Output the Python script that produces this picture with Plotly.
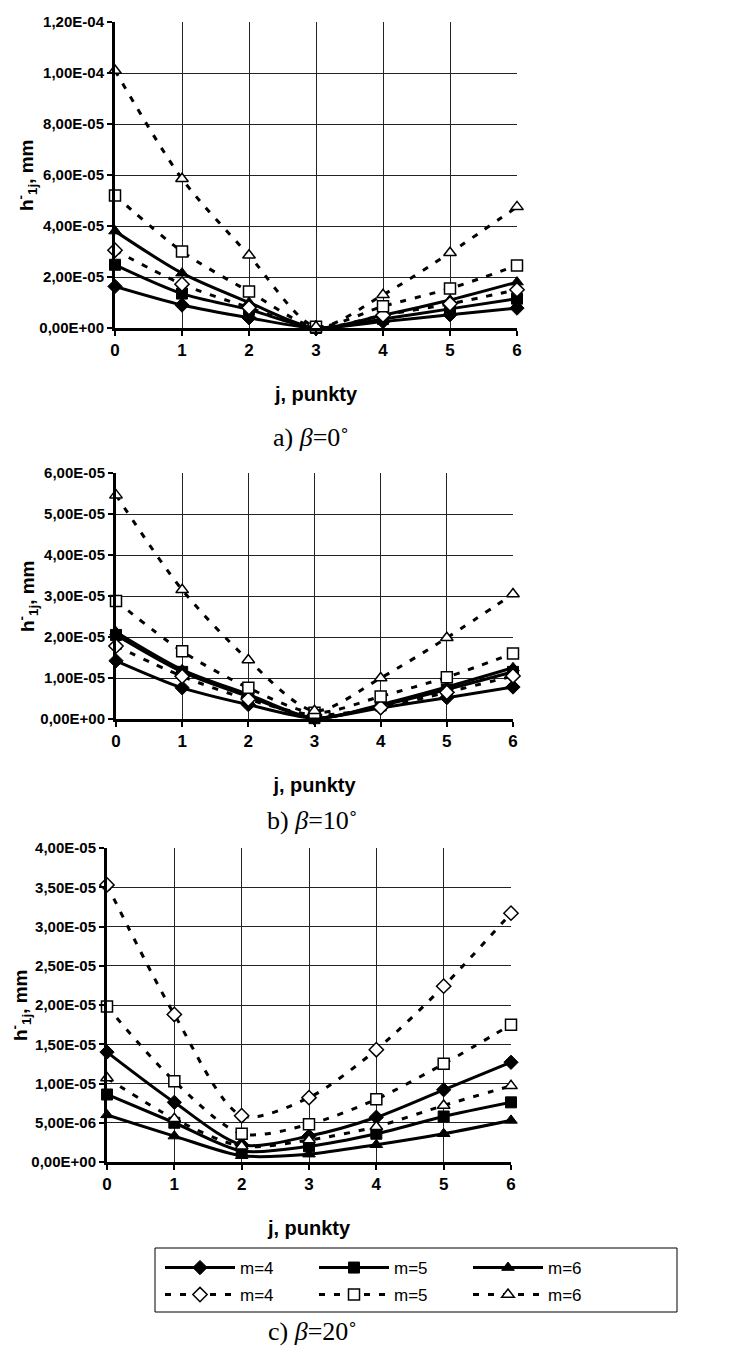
import plotly.graph_objects as go

# ---------------- data ----------------
j_points = [0, 1, 2, 3, 4, 5, 6]
x_tick_labels = ["0", "1", "2", "3", "4", "5", "6"]
series_names = ["m=4", "m=5", "m=6"]

# a) beta = 0 deg
a_solid_m4 = [1.63e-5, 0.90e-5, 0.40e-5, 0.0, 0.25e-5, 0.52e-5, 0.78e-5]
a_solid_m5 = [2.48e-5, 1.35e-5, 0.72e-5, 0.0, 0.35e-5, 0.75e-5, 1.15e-5]
a_solid_m6 = [3.80e-5, 2.15e-5, 1.00e-5, 0.0, 0.50e-5, 1.10e-5, 1.80e-5]
a_dash_m4 = [3.05e-5, 1.72e-5, 0.80e-5, 0.0, 0.50e-5, 0.95e-5, 1.50e-5]
a_dash_m5 = [5.20e-5, 3.00e-5, 1.43e-5, 0.05e-5, 0.85e-5, 1.55e-5, 2.45e-5]
a_dash_m6 = [10.1e-5, 5.85e-5, 2.85e-5, 0.05e-5, 1.30e-5, 2.95e-5, 4.75e-5]
a_yticks = [0, 2e-5, 4e-5, 6e-5, 8e-5, 1e-4, 1.2e-4]
a_ytext = ["0,00E+00", "2,00E-05", "4,00E-05", "6,00E-05", "8,00E-05", "1,00E-04", "1,20E-04"]

# b) beta = 10 deg
b_solid_m4 = [1.42e-5, 0.76e-5, 0.35e-5, 0.02e-5, 0.27e-5, 0.52e-5, 0.78e-5]
b_solid_m5 = [2.05e-5, 1.15e-5, 0.55e-5, 0.02e-5, 0.33e-5, 0.72e-5, 1.15e-5]
b_solid_m6 = [2.12e-5, 1.20e-5, 0.60e-5, 0.02e-5, 0.35e-5, 0.78e-5, 1.25e-5]
b_dash_m4 = [1.78e-5, 1.04e-5, 0.48e-5, 0.10e-5, 0.28e-5, 0.65e-5, 1.05e-5]
b_dash_m5 = [2.88e-5, 1.65e-5, 0.76e-5, 0.15e-5, 0.55e-5, 1.02e-5, 1.60e-5]
b_dash_m6 = [5.46e-5, 3.15e-5, 1.44e-5, 0.20e-5, 1.00e-5, 1.98e-5, 3.05e-5]
b_yticks = [0, 1e-5, 2e-5, 3e-5, 4e-5, 5e-5, 6e-5]
b_ytext = ["0,00E+00", "1,00E-05", "2,00E-05", "3,00E-05", "4,00E-05", "5,00E-05", "6,00E-05"]

# c) beta = 20 deg
c_solid_m4 = [1.40e-5, 0.76e-5, 0.22e-5, 0.33e-5, 0.57e-5, 0.92e-5, 1.27e-5]
c_solid_m5 = [0.86e-5, 0.50e-5, 0.14e-5, 0.20e-5, 0.36e-5, 0.58e-5, 0.76e-5]
c_solid_m6 = [0.60e-5, 0.33e-5, 0.08e-5, 0.10e-5, 0.22e-5, 0.36e-5, 0.53e-5]
c_dash_m4 = [3.53e-5, 1.88e-5, 0.59e-5, 0.82e-5, 1.43e-5, 2.24e-5, 3.17e-5]
c_dash_m5 = [1.98e-5, 1.03e-5, 0.36e-5, 0.48e-5, 0.80e-5, 1.25e-5, 1.75e-5]
c_dash_m6 = [1.07e-5, 0.55e-5, 0.20e-5, 0.28e-5, 0.45e-5, 0.72e-5, 0.97e-5]
c_yticks = [0, 5e-6, 1e-5, 1.5e-5, 2e-5, 2.5e-5, 3e-5, 3.5e-5, 4e-5]
c_ytext = ["0,00E+00", "5,00E-06", "1,00E-05", "1,50E-05", "2,00E-05",
           "2,50E-05", "3,00E-05", "3,50E-05", "4,00E-05"]

captions = ["a) <i>β</i>=0˚", "b) <i>β</i>=10˚", "c) <i>β</i>=20˚"]
y_title = "<b>h<sup>-</sup><sub>1j</sub>, mm</b>"

# ---------------- figure ----------------
OFF = 8                      # page body margin
W, H = 733 - OFF, 1353 - OFF


def px(x):
    return (x - OFF) / W


def py(y):
    return 1 - (y - OFF) / H


SANS = "Liberation Sans, Arial"
TICK_FONT = dict(family=SANS, size=15, color="black", weight="bold")
TITLE_FONT = dict(family=SANS, size=20, color="black", weight="bold")

symbols = ["diamond", "square", "triangle-up"]

charts = [
    ([a_solid_m4, a_solid_m5, a_solid_m6], [a_dash_m4, a_dash_m5, a_dash_m6], a_yticks, a_ytext),
    ([b_solid_m4, b_solid_m5, b_solid_m6], [b_dash_m4, b_dash_m5, b_dash_m6], b_yticks, b_ytext),
    ([c_solid_m4, c_solid_m5, c_solid_m6], [c_dash_m4, c_dash_m5, c_dash_m6], c_yticks, c_ytext),
]

# screen-pixel layout of the three plot areas (left, right, top, bottom)
boxes = [(115, 517, 22, 328), (116, 513, 473, 719), (107, 511, 848, 1162)]
caption_pos = [(311, 437), (312, 820), (312, 1331)]
ytitle_x = [26, 27, 20]

fig = go.Figure()
layout = dict()
annotations = []

for ci, (solids, dashes, yt, ytx) in enumerate(charts):
    sfx = "" if ci == 0 else str(ci + 1)
    xa, ya = "x" + sfx, "y" + sfx
    last = ci == 2
    for k in range(3):
        fig.add_trace(go.Scatter(
            x=j_points, y=solids[k], xaxis=xa, yaxis=ya, mode="lines+markers",
            name=series_names[k], showlegend=last, legend="legend",
            line=dict(color="black", width=3, shape="spline", smoothing=0.8),
            marker=dict(symbol=symbols[k], size=11, color="black",
                        line=dict(color="black", width=1)),
            cliponaxis=False))
    for k in range(3):
        fig.add_trace(go.Scatter(
            x=j_points, y=dashes[k], xaxis=xa, yaxis=ya, mode="lines+markers",
            name=series_names[k], showlegend=last, legend="legend2",
            line=dict(color="black", width=3, dash="6px,9px", shape="spline", smoothing=0.8),
            marker=dict(symbol=symbols[k], size=11, color="white",
                        line=dict(color="black", width=1.5)),
            cliponaxis=False))
    l, r, t, b = boxes[ci]
    layout["xaxis" + sfx] = dict(
        domain=[px(l), px(r)], anchor=ya, range=[0, 6], automargin=False,
        tickvals=j_points, ticktext=x_tick_labels,
        tickfont=dict(family=SANS, size=17, color="black", weight="bold"),
        showgrid=True, gridcolor="#222", gridwidth=1, zeroline=False,
        showline=True, linecolor="black", linewidth=3,
        ticks="outside", ticklen=5, tickwidth=2, tickcolor="black",
        title=dict(text="j, punkty", font=TITLE_FONT, standoff=28))
    layout["yaxis" + sfx] = dict(
        domain=[py(b), py(t)], anchor=xa, range=[0, yt[-1]], automargin=False,
        tickvals=yt, ticktext=ytx, tickfont=TICK_FONT,
        showgrid=True, gridcolor="#222", gridwidth=1, zeroline=False,
        showline=True, linecolor="black", linewidth=3,
        ticks="outside", ticklen=5, tickwidth=2, tickcolor="black")
    annotations.append(dict(
        text=y_title, xref="paper", yref="paper", textangle=-90,
        x=px(ytitle_x[ci]), y=py((t + b) / 2), xanchor="center", yanchor="middle",
        showarrow=False, font=dict(family=SANS, size=19, color="black")))

for ci in range(3):
    cx, cy = caption_pos[ci]
    annotations.append(dict(
        text=captions[ci], xref="paper", yref="paper",
        x=px(cx), y=py(cy), xanchor="center", yanchor="middle",
        showarrow=False,
        font=dict(family="Liberation Serif, Times New Roman", size=26, color="black")))

legend_common = dict(orientation="h", xanchor="left", yanchor="middle",
                     entrywidth=69, entrywidthmode="pixels", traceorder="normal",
                     borderwidth=0, bgcolor="rgba(0,0,0,0)",
                     font=dict(family=SANS, size=17, color="black"),
                     itemwidth=70)

fig.update_layout(
    **layout,
    annotations=annotations,
    shapes=[dict(type="rect", xref="paper", yref="paper",
                 x0=px(155), x1=px(677), y0=py(1312), y1=py(1248),
                 line=dict(color="black", width=1), fillcolor="rgba(0,0,0,0)",
                 layer="below")],
    width=W, height=H, margin=dict(l=0, r=0, t=0, b=0, autoexpand=False),
    paper_bgcolor="white", plot_bgcolor="white",
    showlegend=True,
    legend=dict(x=px(160), y=py(1268), **legend_common),
    legend2=dict(x=px(160), y=py(1295), **legend_common),
)

fig.write_html("out.html")
